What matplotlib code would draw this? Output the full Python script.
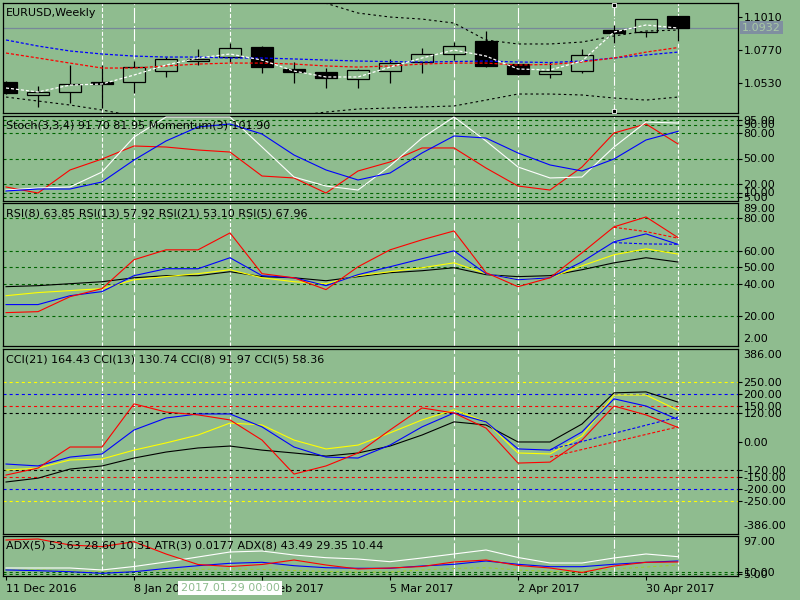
import matplotlib
matplotlib.use("Agg")
import matplotlib.pyplot as plt
import pandas as pd

plt.rcParams["font.family"] = "DejaVu Sans"
plt.rcParams["font.size"] = 8
plt.rcParams["lines.scale_dashes"] = False

BG = "#8fbc8f"
LEVEL = "#006400"

# weekly bars
weeks = pd.date_range("2016-12-11", periods=22, freq="7D")
opens = [1.0537, 1.0443, 1.0465, 1.0537, 1.0537, 1.0617, 1.0690, 1.0719, 1.0792, 1.0632, 1.0610,
         1.0559, 1.0617, 1.0683, 1.0741, 1.0835, 1.0666, 1.0595, 1.0617, 1.0915, 1.0901, 1.1017]
highs = [1.0545, 1.0508, 1.0661, 1.0661, 1.0690, 1.0719, 1.0777, 1.0821, 1.0799, 1.0683, 1.0639,
         1.0630, 1.0705, 1.0785, 1.0828, 1.0908, 1.0668, 1.0683, 1.0777, 1.0952, 1.0995, 1.1017]
lows = [1.0450, 1.0356, 1.0385, 1.0348, 1.0457, 1.0574, 1.0661, 1.0683, 1.0603, 1.0530, 1.0494,
        1.0494, 1.0530, 1.0603, 1.0697, 1.0646, 1.0590, 1.0566, 1.0603, 1.0821, 1.0865, 1.0835]
closes = [1.0457, 1.0465, 1.0523, 1.0526, 1.0646, 1.0705, 1.0705, 1.0785, 1.0646, 1.0610, 1.0566,
          1.0625, 1.0675, 1.0741, 1.0799, 1.0654, 1.0593, 1.0617, 1.0734, 1.0894, 1.0995, 1.0932]
bid = 1.0932

ma_white = [1.0494, 1.0465, 1.0515, 1.0523, 1.0588, 1.0661, 1.0712, 1.0741, 1.0697, 1.0617, 1.0574,
            1.0574, 1.0646, 1.0712, 1.0770, 1.0726, 1.0632, 1.0625, 1.0690, 1.0901, 1.0952, 1.0930]
ma_blue = [1.0843, 1.0799, 1.0763, 1.0741, 1.0726, 1.0719, 1.0719, 1.0712, 1.0712, 1.0705, 1.0697,
           1.0690, 1.0686, 1.0683, 1.0686, 1.0690, 1.0683, 1.0679, 1.0690, 1.0712, 1.0734, 1.0755]
ma_red = [1.0748, 1.0712, 1.0675, 1.0639, 1.0639, 1.0654, 1.0668, 1.0675, 1.0675, 1.0668, 1.0654,
          1.0646, 1.0654, 1.0668, 1.0675, 1.0675, 1.0661, 1.0665, 1.0683, 1.0712, 1.0755, 1.0788]
band_up = [1.1206, 1.1200, 1.1190, 1.1180, 1.1170, 1.1165, 1.1160, 1.1150, 1.1140, 1.1130, 1.1110,
           1.1039, 1.1010, 1.0995, 1.0966, 1.0843, 1.0814, 1.0814, 1.0828, 1.0872, 1.0908, 1.0915]
band_dn = [1.0428, 1.0399, 1.0370, 1.0334, 1.0290, 1.0270, 1.0260, 1.0260, 1.0270, 1.0290, 1.0319,
           1.0341, 1.0348, 1.0356, 1.0363, 1.0406, 1.0450, 1.0450, 1.0443, 1.0421, 1.0406, 1.0428]

# stochastic / momentum
stoch_main = [12.9, 15.3, 16.5, 34.1, 75.3, 98.8, 98.8, 98.8, 63.5, 28.2, 17.6,
              12.9, 41.2, 74.1, 98.8, 70.6, 40.0, 27.1, 28.2, 63.5, 92.9, 91.7]
stoch_signal = [11.8, 14.1, 14.1, 22.4, 48.2, 70.6, 87.1, 90.6, 78.8, 54.1, 36.5,
                24.7, 32.9, 56.5, 76.5, 74.1, 56.5, 42.4, 35.3, 49.4, 71.8, 81.95]
momentum = [16.5, 9.4, 36.5, 49.4, 64.7, 63.5, 60.0, 57.6, 29.4, 27.1, 9.4,
            35.3, 45.9, 62.4, 62.4, 38.8, 17.6, 12.9, 40.0, 80.0, 90.6, 67.1]
stoch_levels = [95, 90, 80, 50, 20, 10, 5]

# RSI
rsi5 = [22.3, 22.9, 32.0, 36.9, 54.5, 60.5, 60.5, 70.8, 46.0, 43.5, 36.3,
        50.2, 60.5, 66.6, 72.0, 46.6, 38.1, 43.5, 58.7, 74.5, 80.5, 67.96]
rsi8 = [27.2, 27.2, 32.6, 35.1, 44.8, 49.0, 49.0, 55.7, 44.8, 43.5, 38.7,
        45.4, 50.2, 55.1, 59.9, 46.0, 42.3, 43.5, 53.2, 65.4, 70.2, 63.85]
rsi13 = [32.6, 34.5, 35.7, 36.9, 42.3, 44.2, 46.0, 48.4, 43.5, 41.1, 39.9,
         44.8, 47.2, 49.6, 52.6, 46.0, 42.3, 43.5, 50.8, 57.5, 61.1, 57.92]
rsi21 = [38.1, 38.7, 39.9, 41.1, 43.5, 44.8, 44.8, 47.2, 44.2, 43.5, 41.7,
         44.2, 46.6, 47.8, 49.6, 45.4, 44.2, 44.8, 48.4, 52.6, 55.7, 53.10]
rsi_red_dash = [74.2, 71.6, 67.6]
rsi_blue_dash = [64.9, 64.1, 63.9]
rsi_levels = [80, 60, 50, 40, 20]

# CCI
cci21 = [-169, -153, -115, -102, -69, -44, -27, -19, -36, -48, -61,
         -48, -19, 27, 82, 69, -2, -2, 73, 203, 207, 164.43]
cci13 = [-119, -111, -77, -73, -36, -6, 27, 77, 69, 6, -31,
         -15, 36, 90, 132, 82, -48, -52, 23, 194, 194, 130.74]
cci8 = [-94, -102, -65, -52, 48, 98, 115, 115, 61, -23, -65,
        -69, -15, 61, 119, 82, -31, -36, 40, 178, 148, 91.97]
cci5 = [-140, -111, -23, -23, 157, 123, 111, 90, 6, -136, -102,
        -48, 48, 140, 119, 56, -90, -86, 6, 148, 111, 58.36]
cci_red_dash = [-65, 61]
cci_blue_dash = [-34, 102]
cci_levels = [(250, "#ffff00"), (200, "#0000ff"), (150, "#ff0000"), (120, "#000000")]

# ADX / ATR
adx_white = [19.4, 19.4, 19.4, 14.6, 23.0, 34.0, 46.1, 58.2, 60.6, 50.9, 44.4,
             41.2, 34.7, 43.7, 53.4, 63.1, 44.9, 31.5, 31.5, 43.7, 53.4, 46.8]
adx_red = [87.3, 89.7, 75.2, 71.1, 83.2, 53.4, 27.9, 23.0, 27.9, 38.8, 26.7,
           17.0, 19.4, 23.0, 34.0, 38.8, 25.5, 19.4, 8.5, 24.3, 33.2, 34.0]
adx_blue = [14.6, 12.9, 10.4, 6.5, 10.4, 18.2, 25.0, 30.8, 33.2, 25.0, 20.1,
            18.7, 18.7, 24.3, 28.4, 36.4, 28.4, 22.6, 22.6, 28.4, 33.2, 36.4]
atr_line = [14.6, 14.6, 12.1, 10.9, 12.1, 14.6, 15.8, 17.0, 15.8, 13.3, 10.9,
            9.7, 9.7, 14.6, 18.2, 20.1, 14.6, 10.9, 10.4, 17.0, 21.8, 26.7]
adx_levels = [10, 5]

x = list(range(len(closes)))

fig = plt.figure(figsize=(8, 6), dpi=100, facecolor=BG)


def add_panel(top, bottom, ylim):
    ax = fig.add_axes([3 / 800, 1 - bottom / 600, 735 / 800, (bottom - top) / 600])
    ax.set_facecolor(BG)
    ax.set_xlim(-0.094, 22.875)
    ax.set_ylim(*ylim)
    for s in ax.spines.values():
        s.set_color("black")
        s.set_linewidth(0.9)
    ax.yaxis.tick_right()
    ax.tick_params(axis="y", direction="out", length=3, width=0.8, pad=1, labelsize=8)
    ax.set_xticks([])
    return ax


def separators(ax):
    for i in [3, 7, 21]:
        ax.axvline(i, color="white", lw=0.8, dashes=(2.9, 1.4), zorder=1)
    for i in [4, 14, 16]:
        ax.axvline(i, color="white", lw=0.8, dashes=(11, 2), zorder=1)
    ax.axvline(19, color="white", lw=0.8, dashes=(6.5, 1.4, 0.7, 1.4), zorder=1)


def corner_label(ax, text):
    ax.annotate(text, xy=(0, 1), xycoords="axes fraction", xytext=(3, -10),
                textcoords="offset pixels", ha="left", va="center", fontsize=8)


def edge_label(ax, text, frac, dy):
    ax.annotate(text, xy=(1, frac), xycoords="axes fraction", xytext=(5, dy),
                textcoords="offset pixels", ha="left", va="center", fontsize=8,
                annotation_clip=False)


# ---- main price panel
ax0 = add_panel(3, 113, (1.0312, 1.1112))
separators(ax0)
for i in x:
    o, h, l, c = opens[i], highs[i], lows[i], closes[i]
    ax0.vlines(i, l, h, color="black", lw=0.9, zorder=2)
    bull = c >= o
    ax0.bar(i, max(abs(c - o), 0.00012), bottom=min(o, c), width=0.69,
            facecolor=BG if bull else "black", edgecolor="black", lw=0.9, zorder=3)
ax0.plot(x, band_up, color="black", lw=0.8, dashes=(1.8, 2.2), zorder=4)
ax0.plot(x, band_dn, color="black", lw=0.8, dashes=(1.8, 2.2), zorder=4)
ax0.plot(x, ma_blue, color="#0000ff", lw=0.9, dashes=(2.2, 1.4), zorder=4)
ax0.plot(x, ma_red, color="#ff0000", lw=0.9, dashes=(2.2, 1.4), zorder=4)
ax0.plot(x, ma_white, color="white", lw=0.9, dashes=(2.2, 1.4), zorder=5)
ax0.axhline(bid, color="#778899", lw=0.9, zorder=1)
ax0.set_yticks([1.1010, 1.0770, 1.0530], ["1.1010", "1.0770", "1.0530"])
ax0.annotate("1.0932", xy=(1, bid), xycoords=("axes fraction", "data"), xytext=(4, 0),
             textcoords="offset pixels", ha="left", va="center", fontsize=8, color="#a9c9a4",
             bbox=dict(boxstyle="square,pad=0.15", fc="#7f8fa0", ec="none"),
             annotation_clip=False, zorder=10)
ax0.plot([19, 19], [0.982, 0.018], transform=ax0.get_xaxis_transform(), ls="none",
         marker="s", ms=3.5, mfc="black", mec="white", mew=0.6, clip_on=False, zorder=6)
corner_label(ax0, "EURUSD,Weekly")

# ---- stochastic panel
ax1 = add_panel(116, 201, (0, 100))
separators(ax1)
for lv in stoch_levels:
    ax1.axhline(lv, color=LEVEL, lw=0.8, dashes=(2.2, 2.2), zorder=1)
ax1.plot(x, momentum, color="#ff0000", lw=0.8, zorder=3)
ax1.plot(x, stoch_main, color="white", lw=0.8, zorder=3)
ax1.plot(x, stoch_signal, color="#0000ff", lw=0.8, zorder=3)
ax1.set_yticks(stoch_levels, [f"{v:.2f}" for v in stoch_levels])
corner_label(ax1, "Stoch(3,3,4) 91.70 81.95 Momentum(3) 101.90")

# ---- RSI panel
ax2 = add_panel(203, 346, (2, 89))
separators(ax2)
for lv in rsi_levels:
    ax2.axhline(lv, color=LEVEL, lw=0.8, dashes=(2.2, 2.2), zorder=1)
ax2.plot(x, rsi21, color="black", lw=0.8, zorder=3)
ax2.plot(x, rsi13, color="#ffff00", lw=0.8, zorder=3)
ax2.plot(x, rsi8, color="#0000ff", lw=0.8, zorder=3)
ax2.plot(x, rsi5, color="#ff0000", lw=0.8, zorder=3)
ax2.plot([19, 20, 21], rsi_red_dash, color="#ff0000", lw=0.8, dashes=(2.2, 1.4), zorder=3)
ax2.plot([19, 20, 21], rsi_blue_dash, color="#0000ff", lw=0.8, dashes=(2.2, 1.4), zorder=3)
ax2.set_yticks(rsi_levels, [f"{v:.2f}" for v in rsi_levels])
edge_label(ax2, "89.00", 1, -6)
edge_label(ax2, "2.00", 0, 7)
corner_label(ax2, "RSI(8) 63.85 RSI(13) 57.92 RSI(21) 53.10 RSI(5) 67.96")

# ---- CCI panel
ax3 = add_panel(349, 534, (-386, 386))
separators(ax3)
ticks = []
for lv, col in cci_levels:
    ax3.axhline(lv, color=col, lw=0.8, dashes=(2.2, 2.2), zorder=1)
    ax3.axhline(-lv, color=col, lw=0.8, dashes=(2.2, 2.2), zorder=1)
    ticks += [lv, -lv]
ticks.append(0)
ax3.plot(x, cci21, color="black", lw=0.8, zorder=3)
ax3.plot(x, cci13, color="#ffff00", lw=0.8, zorder=3)
ax3.plot(x, cci8, color="#0000ff", lw=0.8, zorder=3)
ax3.plot(x, cci5, color="#ff0000", lw=0.8, zorder=3)
ax3.plot([17, 21], cci_red_dash, color="#ff0000", lw=0.8, dashes=(2.2, 1.4), zorder=3)
ax3.plot([17, 21], cci_blue_dash, color="#0000ff", lw=0.8, dashes=(2.2, 1.4), zorder=3)
ax3.set_yticks(ticks, [f"{v:.2f}" for v in ticks])
edge_label(ax3, "386.00", 1, -6)
edge_label(ax3, "-386.00", 0, 8)
corner_label(ax3, "CCI(21) 164.43 CCI(13) 130.74 CCI(8) 91.97 CCI(5) 58.36")

# ---- ADX panel
ax4 = add_panel(536, 576, (0, 97))
separators(ax4)
for lv in adx_levels:
    ax4.axhline(lv, color=LEVEL, lw=0.8, dashes=(2.2, 2.2), zorder=1)
ax4.plot(x, atr_line, color="#9acd32", lw=0.8, dashes=(2.2, 2.2), zorder=2)
ax4.plot(x, adx_white, color="white", lw=0.8, zorder=3)
ax4.plot(x, adx_blue, color="#0000ff", lw=0.8, zorder=3)
ax4.plot(x, adx_red, color="#ff0000", lw=0.8, zorder=3)
ax4.set_yticks(adx_levels, [f"{v:.2f}" for v in adx_levels])
edge_label(ax4, "97.00", 1, -6)
corner_label(ax4, "ADX(5) 53.63 28.60 10.31 ATR(3) 0.0177 ADX(8) 43.49 29.35 10.44")

tick_idx = [0, 4, 8, 12, 16, 20]
ax4.set_xticks(tick_idx, [f"{weeks[i].day} {weeks[i]:%b %Y}" for i in tick_idx])
ax4.tick_params(axis="x", direction="out", length=3, width=0.8, pad=3, labelsize=8)
for lab in ax4.get_xticklabels():
    lab.set_ha("left")
ax4.annotate(f"{weeks[7]:%Y.%m.%d} 00:00", xy=(7, 0), xycoords=("data", "axes fraction"),
             xytext=(0, -12), textcoords="offset pixels", ha="center", va="center",
             fontsize=8, color=BG, annotation_clip=False, zorder=10,
             bbox=dict(boxstyle="square,pad=0.2", fc="white", ec="none"))

fig.savefig("out.png", dpi=100, facecolor=BG)
